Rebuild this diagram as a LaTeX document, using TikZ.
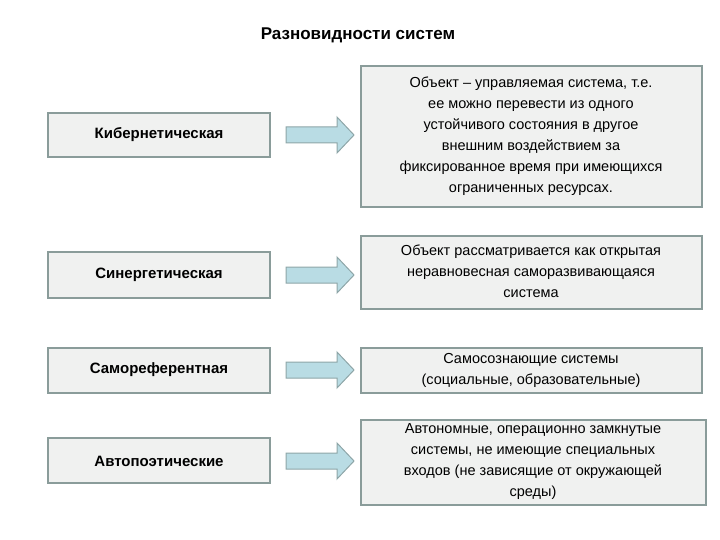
\documentclass[tikz,border=0pt]{standalone}
\usepackage{fontspec}
\setmainfont{Liberation Sans}
\usetikzlibrary{shapes.arrows}
\definecolor{boxfill}{HTML}{F0F1F0}
\definecolor{boxline}{HTML}{8A9C9A}
\definecolor{arrfill}{HTML}{B9DCE4}
\definecolor{arrline}{HTML}{8EA6A8}
\begin{document}
\begin{tikzpicture}[x=1pt,y=-1pt,
  lbox/.style={draw=boxline,line width=1.5pt,fill=boxfill},
  rbox/.style={draw=boxline,line width=1.5pt,fill=boxfill},
  lab/.style={font=\bfseries\fontsize{15}{18}\selectfont},
  txt/.style={font=\fontsize{14.5}{21}\selectfont,align=center},
  arr/.style={draw=arrline,line width=1pt,fill=arrfill}]
\useasboundingbox (0,0) rectangle (720,540);
\node[font=\bfseries\fontsize{17}{20}\selectfont] (title) at (358,35) {Разновидности систем};
% left boxes
\filldraw[lbox] (48,113) rectangle (270,157);
\node[lab] (l1) at (159,135) {Кибернетическая};
\filldraw[lbox] (48,252) rectangle (270,298);
\node[lab] (l2) at (159,275) {Синергетическая};
\filldraw[lbox] (48,348) rectangle (270,393);
\node[lab] (l3) at (159,370) {Самореферентная};
\filldraw[lbox] (48,438) rectangle (270,483);
\node[lab] (l4) at (159,461) {Автопоэтические};
% right boxes
\filldraw[rbox] (361,66) rectangle (702,207);
\node[txt] (r1) at (531,136) {Объект – управляемая система, т.е.\\ее можно перевести из одного\\устойчивого состояния в другое\\внешним воздействием за\\фиксированное время при имеющихся\\ограниченных ресурсах.};
\filldraw[rbox] (361,236) rectangle (702,309);
\node[txt] (r2) at (531,271) {Объект рассматривается как открытая\\неравновесная саморазвивающаяся\\система};
\filldraw[rbox] (361,348) rectangle (702,393);
\node[txt] (r3) at (531,370) {Самосознающие системы\\(социальные, образовательные)};
\filldraw[rbox] (361,420) rectangle (706,505);
\node[txt] (r4) at (533,462) {Автономные, операционно замкнутые\\системы, не имеющие специальных\\входов (не зависящие от окружающей\\среды)};
% arrows
\foreach \y in {135,275,370,461}{
  \draw[arr] (286,\y-8) -- (337,\y-8) -- (337,\y-18) -- (354,\y) -- (337,\y+18) -- (337,\y+8) -- (286,\y+8) -- cycle;
}
\end{tikzpicture}
\end{document}
